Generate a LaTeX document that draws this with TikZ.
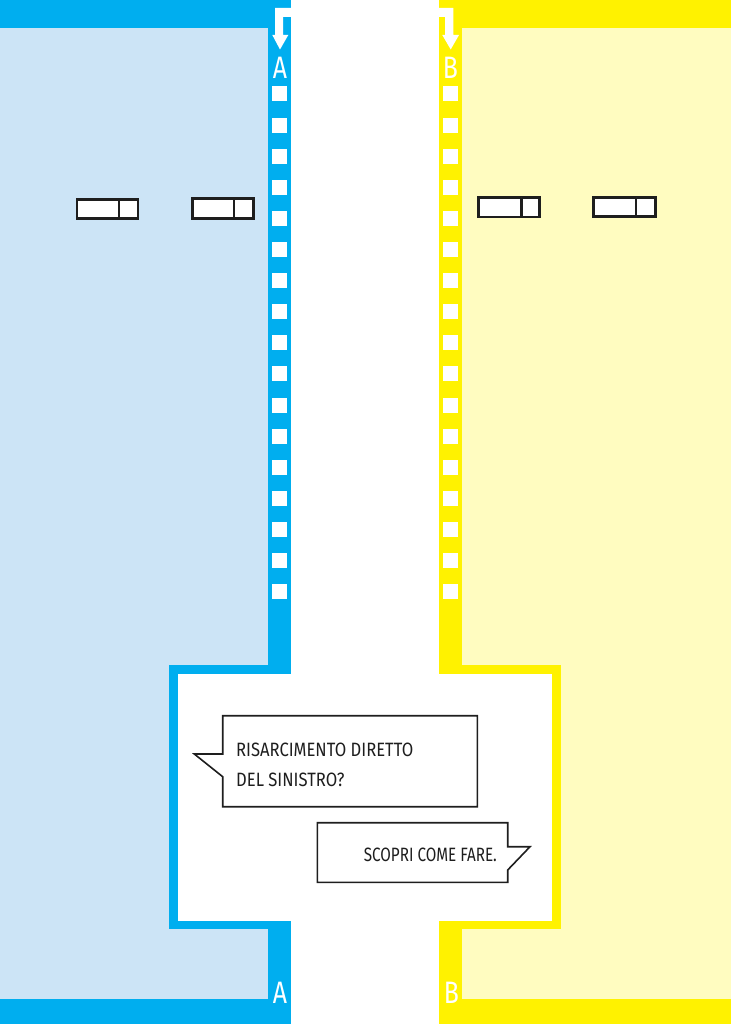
\documentclass[tikz,border=0pt]{standalone}
\usepackage{fontspec}
\newfontfamily\bubblefont[FakeStretch=0.86]{Fira Sans}
\newfontfamily\bubblefontn[FakeStretch=0.79]{Fira Sans}
\newfontfamily\letterfont[FakeStretch=0.8]{Fira Sans}
\definecolor{cyanA}{RGB}{0,174,239}
\definecolor{cyanL}{RGB}{204,228,246}
\definecolor{yelB}{RGB}{255,242,0}
\definecolor{yelL}{RGB}{255,252,192}
\definecolor{inkk}{RGB}{30,30,30}
\tikzset{
  smallbox/.style={draw=inkk,line width=2.6pt,fill=white},
  bubble/.style={draw=inkk,line width=1.6pt,fill=white,line join=miter},
  bubbletext/.style={font=\bubblefont\fontsize{19.3}{23}\selectfont,text=inkk,inner sep=0pt,anchor=base west},
  lettertext/.style={font=\letterfont\fontsize{31}{34}\selectfont,text=white,inner sep=0pt,anchor=base},
  holesq/.style={fill=white},
}
\begin{document}
\begin{tikzpicture}[x=1pt,y=-1pt]
\useasboundingbox (0,0) rectangle (731,1024);
% left (blue) side
\fill[cyanA] (0,0) rectangle (291,1024);
\fill[cyanL] (0,28) rectangle (268,998.7);
% right (yellow) side
\fill[yelB] (439,0) rectangle (731,1024);
\fill[yelL] (462,28) rectangle (731,998.7);
% frames of the central box
\fill[cyanA] (169.3,665) rectangle (291,929.3);
\fill[yelB] (439,665) rectangle (561,929.3);
\fill[white] (178.3,674.3) rectangle (551.7,920.7);
% arrows at the top
\fill[white] (291,8) -- (275,8) -- (275,35) -- (272.3,35) -- (280,49.5) -- (288.3,35) -- (283,35) -- (283,17) -- (291,17) -- cycle;
\fill[white] (439,8) -- (453.3,8) -- (453.3,35) -- (459,35) -- (450.7,49.5) -- (442.3,35) -- (445,35) -- (445,17) -- (439,17) -- cycle;
% letters
\node[lettertext] (Atop) at (280,79) {A};
\node[lettertext] (Btop) at (450.3,79) {B};
\node[lettertext] (Abot) at (280,1003) {A};
\node[lettertext] (Bbot) at (451.3,1003) {B};
% perforation squares
\foreach \i in {0,...,16}{
  \fill[holesq] (272,86.5+31.1*\i) rectangle ++(15,15);
  \fill[holesq] (443,86.5+31.1*\i) rectangle ++(15,15);
}
% small boxes
\draw[smallbox] (77,199.3) rectangle (138,218.7);
\draw[smallbox] (119,199.3) -- (119,218.7);
\draw[smallbox,line width=3pt] (192,198.2) rectangle (253.7,218.8);
\draw[smallbox] (234,198.2) -- (234,218.8);
\draw[smallbox] (478.7,197.7) rectangle (539.7,217);
\draw[smallbox] (521.3,197.7) -- (521.3,217);
\draw[smallbox,line width=3pt] (593.7,197.7) rectangle (655.3,217);
\draw[smallbox] (636,197.7) -- (636,217);
% speech bubble 1
\coordinate (b1tl) at (222.7,715.7);
\coordinate (b1br) at (477.3,806.7);
\draw[bubble] (b1tl) -- (477.3,715.7) -- (b1br) -- (222.7,806.7) -- (222.7,776.7) -- (194.3,754) -- (222.7,754) -- cycle;
\node[bubbletext] (t1a) at (236,756) {RISARCIMENTO DIRETTO};
\node[bubbletext] (t1b) at (236,786) {DEL SINISTRO?};
% speech bubble 2
\coordinate (b2tl) at (317.3,822.7);
\coordinate (b2br) at (507.7,882.3);
\draw[bubble] (b2tl) -- (507.7,822.7) -- (507.7,846.7) -- (530,846.7) -- (507.7,870) -- (b2br) -- (317.3,882.3) -- cycle;
\node[bubbletext,font=\bubblefontn\fontsize{19.3}{23}\selectfont,anchor=base east] (t2) at (497,861.5) {SCOPRI COME FARE.};
\end{tikzpicture}
\end{document}
